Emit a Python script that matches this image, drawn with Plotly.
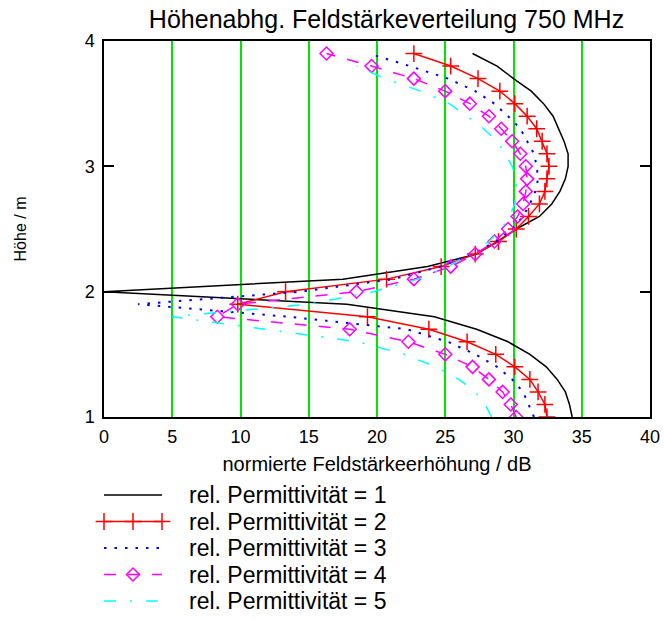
import plotly.graph_objects as go

# Height above ground (m) at which the field strength was evaluated
heights = [1.0, 1.1, 1.2, 1.3, 1.4, 1.5, 1.6, 1.7, 1.8, 1.9,
           2.0, 2.1, 2.2, 2.3, 2.4, 2.5, 2.6, 2.7, 2.8, 2.9,
           3.0, 3.1, 3.2, 3.3, 3.4, 3.5, 3.6, 3.7, 3.8, 3.9]
heights_eps5 = heights[:-1]

# Normalised field-strength increase (dB) per relative permittivity
eps1 = [34.3, 34.1, 33.8, 33.2, 32.4, 31.2, 29.6, 27.3, 24.2, 17.8,
        0.0, 17.5, 23.7, 27.3, 28.8, 30.2, 31.9, 32.8, 33.4, 33.8,
        34.0, 34.0, 33.7, 33.3, 32.9, 32.2, 31.3, 30.0, 28.8, 27.0]
eps2 = [32.45, 32.3, 31.8, 31.2, 30.1, 28.7, 26.6, 23.8, 19.3, 9.8,
        13.3, 20.7, 24.7, 27.2, 28.9, 30.2, 31.1, 31.9, 32.3, 32.45,
        32.6, 32.45, 32.1, 31.7, 31.0, 30.1, 29.0, 27.4, 25.4, 22.7]
eps3 = [31.5, 31.1, 30.7, 29.9, 28.8, 27.2, 25.2, 22.2, 13.5, 2.5,
        14.4, 21.2, 24.6, 27.0, 28.7, 29.9, 30.7, 31.2, 31.6, 31.8,
        31.7, 31.5, 31.0, 30.5, 29.6, 28.6, 27.2, 25.2, 22.4, 19.4]
eps4 = [30.2, 29.8, 29.2, 28.2, 27.0, 25.0, 22.3, 18.0, 8.3, 9.8,
        18.5, 22.7, 25.4, 27.2, 28.6, 29.6, 30.3, 30.7, 30.9, 31.0,
        30.9, 30.5, 29.9, 29.1, 28.2, 26.8, 25.0, 22.7, 19.6, 16.3]
eps5 = [28.4, 27.9, 27.2, 26.0, 24.3, 22.0, 18.6, 12.0, 5.0, 15.0,
        19.7, 23.0, 25.2, 26.8, 28.2, 29.1, 29.7, 30.1, 30.2, 30.2,
        29.9, 29.4, 28.8, 27.8, 26.6, 25.3, 23.2, 20.6, 18.5]

labels = ["rel. Permittivität = 1", "rel. Permittivität = 2",
          "rel. Permittivität = 3", "rel. Permittivität = 4",
          "rel. Permittivität = 5"]

x_ticks = [0, 5, 10, 15, 20, 25, 30, 35, 40]
y_ticks = [1, 2, 3, 4]

W, H = 664, 621
FONT = "Arial, Liberation Sans, sans-serif"
GRID = "rgb(0,230,0)"

# plot frame in pixels
PL, PR, PT, PB = 104, 650, 41, 417

styles = [
    dict(mode="lines", line=dict(color="black", width=1.5)),
    dict(mode="lines+markers", line=dict(color="red", width=1.5),
         marker=dict(symbol="cross-thin", size=12,
                     line=dict(color="red", width=1.5))),
    dict(mode="lines", line=dict(color="blue", width=2, dash="2.5px,8px")),
    dict(mode="lines+markers",
         line=dict(color="magenta", width=1.5, dash="12px,12px"),
         marker=dict(symbol="diamond-open", size=10, color="magenta",
                     line=dict(color="magenta", width=1.5))),
    dict(mode="lines",
         line=dict(color="cyan", width=1.5, dash="12px,14px,2px,14px")),
]

series = [(eps1, heights), (eps2, heights), (eps3, heights),
          (eps4, heights), (eps5, heights_eps5)]

fig = go.Figure()
for (xs, ys), st, name in zip(series, styles, labels):
    fig.add_trace(go.Scatter(x=xs, y=ys, name=name, showlegend=False,
                             xaxis="x", yaxis="y", **st))

# key below the chart, drawn on a pixel-scaled overlay axis
row_y = [495, 521.5, 548, 574.5, 601]
key_x0, key_x1 = 104, 162
key_mid = (key_x0 + key_x1) / 2
for i, (st, name, ry) in enumerate(zip(styles, labels, row_y)):
    fig.add_trace(go.Scatter(
        x=[key_x0, key_x1], y=[ry, ry], mode="lines", line=st["line"],
        xaxis="x2", yaxis="y2", showlegend=False, hoverinfo="skip"))
    if i == 1:
        fig.add_trace(go.Scatter(
            x=[key_x0, key_mid, key_x1], y=[ry, ry, ry], mode="markers",
            marker=st["marker"], xaxis="x2", yaxis="y2",
            showlegend=False, hoverinfo="skip"))
    if i == 3:
        fig.add_trace(go.Scatter(
            x=[key_mid], y=[ry], mode="markers", marker=st["marker"],
            xaxis="x2", yaxis="y2", showlegend=False, hoverinfo="skip"))
    fig.add_annotation(x=187, y=ry, xref="x2", yref="y2", text=name,
                       showarrow=False, xanchor="left", yanchor="middle",
                       font=dict(size=23, family=FONT, color="black"))

fig.update_layout(
    width=W, height=H,
    margin=dict(l=0, r=0, t=0, b=0, autoexpand=False),
    paper_bgcolor="white", plot_bgcolor="rgba(0,0,0,0)",
    font=dict(family=FONT, color="black"),
    showlegend=False,
    title=dict(text="Höhenabhg. Feldstärkeverteilung 750 MHz",
               font=dict(size=25), x=386.5 / W, xref="container",
               xanchor="center", y=1 - 19 / H, yref="container",
               yanchor="middle"),
    xaxis=dict(
        domain=[PL / W, PR / W], anchor="y",
        range=[0, 40], tickvals=x_ticks, ticktext=[str(v) for v in x_ticks],
        showgrid=True, gridcolor=GRID, gridwidth=1.5, zeroline=False,
        showline=True, linecolor="black", linewidth=1.5, mirror=True,
        ticks="", tickfont=dict(size=18), ticklabelstandoff=3,
        title=dict(text="normierte Feldstärkeerhöhung / dB",
                   font=dict(size=20), standoff=11),
    ),
    yaxis=dict(
        domain=[1 - PB / H, 1 - PT / H], anchor="x",
        range=[1, 4], tickvals=y_ticks, ticktext=[str(v) for v in y_ticks],
        showgrid=False, zeroline=False,
        showline=True, linecolor="black", linewidth=1.5, mirror="ticks",
        ticks="inside", ticklen=10, tickwidth=1.5, tickcolor="black",
        tickfont=dict(size=18), ticklabelstandoff=4,
        title=dict(text="Höhe / m", font=dict(size=16), standoff=54),
    ),
    xaxis2=dict(domain=[0, 1], range=[0, W], anchor="y2", visible=False,
                fixedrange=True),
    yaxis2=dict(domain=[0, 1], range=[H, 0], anchor="x2", visible=False,
                fixedrange=True),
)

fig.write_html("out.html")
